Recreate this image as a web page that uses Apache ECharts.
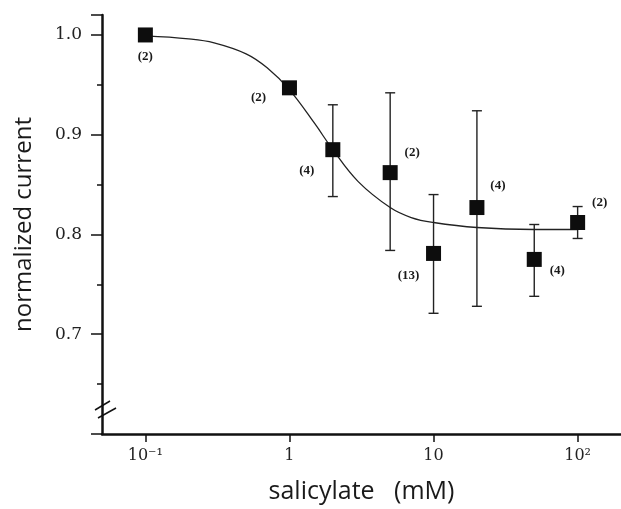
<!DOCTYPE html>
<html>
<head>
<meta charset="utf-8">
<script src="https://cdn.jsdelivr.net/npm/echarts@6/dist/echarts.min.js"></script>
<style>html,body{margin:0;padding:0;background:#fff}#c{width:621px;height:509px}</style>
</head>
<body>
<div id="c"></div>
<script>
// ---- data ----
var concentrations = [0.1, 1, 2, 5, 10, 20, 50, 100];           // mM
var meanCurrent    = [1.000, 0.947, 0.885, 0.862, 0.781, 0.827, 0.775, 0.812];
var errLow         = [1.000, 0.947, 0.838, 0.784, 0.721, 0.728, 0.738, 0.796];
var errHigh        = [1.000, 0.947, 0.930, 0.942, 0.840, 0.924, 0.810, 0.828];
var nLabels        = ['(2)', '(2)', '(4)', '(2)', '(13)', '(4)', '(4)', '(2)'];
var fitX = [0.1, 0.2, 0.3, 0.5, 0.7, 1, 1.5, 2, 3, 5, 7, 10, 20, 50, 100];
var fitY = [0.999, 0.996, 0.992, 0.981, 0.967, 0.945, 0.911, 0.885, 0.853, 0.827, 0.817, 0.812, 0.807, 0.805, 0.805];
var xTickLabels = {'0.1': '10\u207B\u00B9', '1': '1', '10': '10', '100': '10\u00B2'};
var yTickLabels = ['0.7', '0.8', '0.9', '1.0'];

// ---- layout (not data) ----
var labelOffsets = [[0, 22], [-31, 10], [-26, 21], [22, -20], [-25, 22], [21, -22], [23, 11], [22, -20]];

var chart = echarts.init(document.getElementById('c'));
var ink = '#111';
var tickFont = 'DejaVu Serif';

var pts = concentrations.map(function (x, i) {
  return {
    value: [x, meanCurrent[i]],
    label: { show: true, formatter: nLabels[i], position: 'inside', offset: labelOffsets[i] }
  };
});
var errData = concentrations.map(function (x, i) { return [x, errLow[i], errHigh[i]]; })
  .filter(function (d) { return d[2] - d[1] > 0.001; });

chart.setOption({
  animation: false,
  grid: { left: 102, right: 0, top: 15, bottom: 74, containLabel: false },
  xAxis: {
    type: 'log', logBase: 10, min: 0.05, max: 200,
    name: 'salicylate   (mM)', nameLocation: 'middle', nameGap: 45,
    nameTextStyle: { fontFamily: 'Open Sans', fontSize: 25, color: '#1a1a1a' },
    axisLine: { lineStyle: { color: ink, width: 2.5 } },
    axisTick: { show: true, length: 8, lineStyle: { color: ink, width: 1.5 } },
    axisLabel: {
      margin: 14, fontFamily: tickFont, fontSize: 16, color: '#222',
      showMinLabel: false, showMaxLabel: false,
      formatter: function (v) {
        var k = String(+v.toPrecision(6));
        return xTickLabels[k] !== undefined ? xTickLabels[k] : '';
      }
    },
    splitLine: { show: false }, minorTick: { show: false }
  },
  yAxis: {
    type: 'value', min: 0.6, max: 1.02, interval: 0.1,
    name: 'normalized current', nameLocation: 'middle', nameGap: 66, nameRotate: 90,
    nameTextStyle: { fontFamily: 'Open Sans', fontSize: 24, color: '#1a1a1a' },
    axisLine: { show: true, lineStyle: { color: ink, width: 2.5 } },
    axisTick: { show: true, length: 11, lineStyle: { color: ink, width: 1.5 } },
    minorTick: { show: true, splitNumber: 2, length: 5, lineStyle: { color: ink, width: 1.5 } },
    axisLabel: {
      margin: 20, fontFamily: tickFont, fontSize: 17, color: '#222',
      formatter: function (v) {
        if (Math.abs(v * 10 - Math.round(v * 10)) > 1e-6) return '';
        var s = v.toFixed(1);
        return yTickLabels.indexOf(s) >= 0 ? s : '';
      }
    },
    splitLine: { show: false }
  },
  series: [
    {
      type: 'line', smooth: 0.4, symbol: 'none', silent: true,
      data: fitX.map(function (x, i) { return [x, fitY[i]]; }),
      lineStyle: { color: '#222', width: 1.3 }, z: 1
    },
    {
      type: 'custom', silent: true, z: 2,
      data: errData,
      renderItem: function (params, api) {
        var lo = api.coord([api.value(0), api.value(1)]);
        var hi = api.coord([api.value(0), api.value(2)]);
        var w = 5;
        var st = { stroke: '#222', lineWidth: 1.4 };
        return { type: 'group', children: [
          { type: 'line', shape: { x1: lo[0], y1: lo[1], x2: hi[0], y2: hi[1] }, style: st },
          { type: 'line', shape: { x1: lo[0] - w, y1: lo[1], x2: lo[0] + w, y2: lo[1] }, style: st },
          { type: 'line', shape: { x1: hi[0] - w, y1: hi[1], x2: hi[0] + w, y2: hi[1] }, style: st }
        ] };
      }
    },
    {
      type: 'scatter', symbol: 'rect', symbolSize: 15, z: 3,
      itemStyle: { color: '#0d0d0d', opacity: 1 },
      label: { fontFamily: 'Liberation Serif', fontSize: 13, fontWeight: 'bold', color: '#1a1a1a' },
      data: pts
    }
  ],
  graphic: [
    { type: 'line', shape: { x1: 95, y1: 410, x2: 110, y2: 401 }, style: { stroke: ink, lineWidth: 1.5 } },
    { type: 'line', shape: { x1: 98, y1: 418, x2: 116, y2: 408 }, style: { stroke: ink, lineWidth: 1.5 } }
  ]
});
</script>
</body>
</html>
